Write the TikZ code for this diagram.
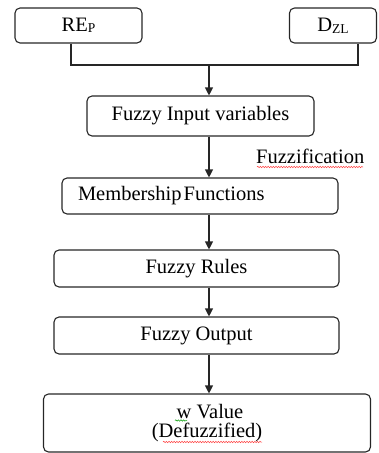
\documentclass[tikz,border=0pt]{standalone}
\usepackage{fontspec}
\setmainfont{Liberation Serif}
\usetikzlibrary{arrows.meta,decorations.pathmorphing}
\begin{document}
\begin{tikzpicture}[x=1pt,y=-1pt,
  box/.style={draw=black!85, line width=1.1pt, rounded corners=5pt, inner sep=0pt,
    font=\fontsize{20.5}{20}\selectfont},
  arr/.style={draw=black!85, line width=1.1pt, -{Triangle[length=8pt,width=8pt]}},
  ln/.style={draw=black!85, line width=1.1pt},
  sq/.style={decorate, decoration={snake, amplitude=0.7pt, segment length=2.6pt}, line width=0.5pt},
  lbl/.style={inner sep=0pt, font=\fontsize{20.5}{20}\selectfont}]
\useasboundingbox (0,0) rectangle (378,453);
\node[box, minimum width=127, minimum height=35] (rep) at (78.5,25.5)
  {RE{\fontsize{13.5}{13}\selectfont\raisebox{-1.5pt}{P}}};
\node[box, minimum width=87, minimum height=35] (dzl) at (333,25.5)
  {D{\fontsize{13.5}{13}\selectfont\raisebox{-2pt}{ZL}}};
\node[box, minimum width=227, minimum height=40] (fi) at (200.5,116) {Fuzzy Input variables};
\node[box, minimum width=276, minimum height=36] (mf) at (200,196)
  {\makebox[244pt][l]{Membership\hspace{2pt}Functions}};
\node[box, minimum width=285, minimum height=37] (fr) at (196.5,268.5) {Fuzzy Rules};
\node[box, minimum width=285, minimum height=37] (fo) at (196.5,335.5) {Fuzzy Output};
\node[box, minimum width=327, minimum height=58, align=center] (wv) at (207,423)
  {\hspace{6pt}w Value\\[-1pt](Defuzzified)};
\node[lbl, anchor=base west] (fz) at (256,163) {Fuzzification};
\coordinate (ax) at (209,0);
\coordinate (j) at (209,65);
\draw[ln] (rep.south -| 71,0) |- (j) -| (dzl.south -| 358,0);
\draw[arr] (j) -- (fi.north -| ax);
\draw[arr] (fi.south -| ax) -- (mf.north -| ax);
\draw[arr] (mf.south -| ax) -- (fr.north -| ax);
\draw[arr] (fr.south -| ax) -- (fo.north -| ax);
\draw[arr] (fo.south -| ax) -- (wv.north -| ax);
\draw[sq, red!75] (257,167) -- (363,167);
\draw[sq, green!60!black] (175,420.5) -- (187,420.5);
\draw[sq, red!75] (163,442) -- (262,442);
\end{tikzpicture}
\end{document}
